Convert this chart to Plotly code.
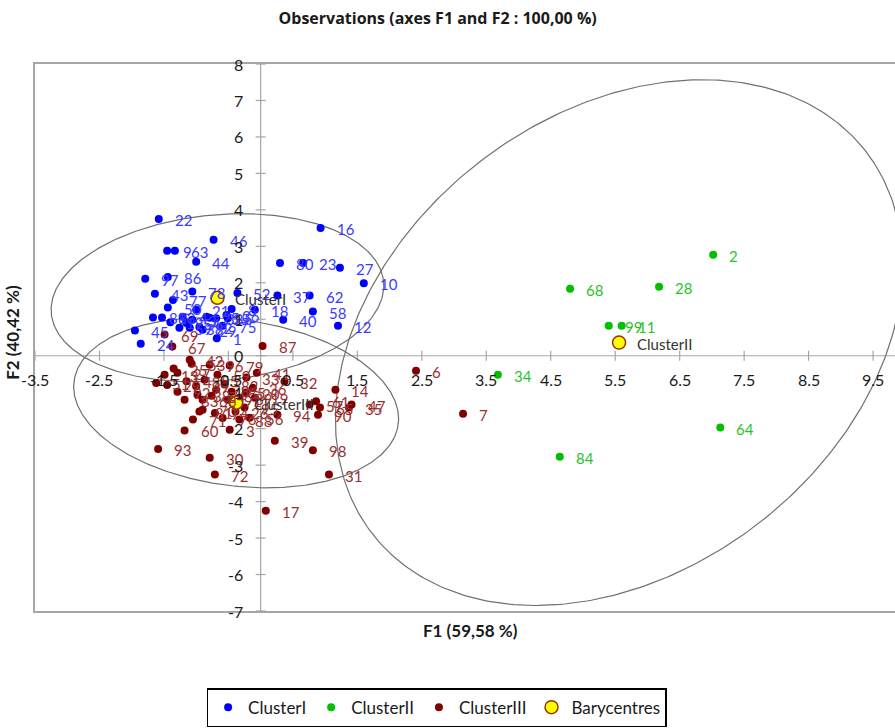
import numpy as np
import plotly.graph_objects as go

# ---------------- data ----------------
c1_labels = ["22", "46", "9", "63", "44", "97", "86", "43", "77", "78", "50", "21", "52", "8", "18",
             "80", "23", "27", "16", "10", "37", "62", "58", "40", "12", "15", "5", "75", "1", "45",
             "24", "81", "83", "4", "54", "3", "59", "38", "92", "25", "19", "29", "33", "36"]
c1_x = [-1.58, -0.73, -1.45, -1.33, -1.00, -1.79, -1.44, -1.64, -1.36, -1.06, -1.44, -1.00, -0.36, -0.45, -0.09,
        0.30, 0.66, 1.23, 0.93, 1.60, 0.26, 0.76, 0.81, 0.35, 1.20, -0.69, -0.51, -0.59, -0.68, -1.95,
        -1.86, -1.67, -1.53, -1.21, -1.15, -1.06, -1.26, -1.10, -0.95, -0.84, -1.40, -0.90, -0.79, -0.53]
c1_y = [3.75, 3.18, 2.88, 2.88, 2.58, 2.11, 2.16, 1.70, 1.53, 1.76, 1.32, 1.26, 1.72, 1.28, 1.26,
        2.54, 2.54, 2.41, 3.50, 1.99, 1.65, 1.65, 1.21, 0.99, 0.82, 1.03, 1.03, 0.82, 0.48, 0.69,
        0.33, 1.05, 1.05, 1.07, 0.90, 0.99, 0.77, 0.77, 0.79, 1.07, 0.92, 0.71, 1.04, 1.12]

c2_labels = ["2", "68", "28", "99", "11", "34", "64", "84"]
c2_x = [7.02, 4.80, 6.18, 5.40, 5.60, 3.68, 7.13, 4.64]
c2_y = [2.77, 1.84, 1.89, 0.82, 0.82, -0.52, -1.97, -2.77]

c3_labels = ["87", "69", "67", "53", "96", "79", "41", "32", "20", "61", "65", "94", "57", "90", "14",
             "47", "35", "39", "98", "31", "17", "60", "93", "30", "72", "6", "7", "13", "51", "27",
             "42", "48", "49", "55", "66", "70", "71", "73", "74", "76", "82", "85", "89", "91", "95",
             "26", "56", "88", "19", "25", "29", "33", "36", "59", "54", "38", "92", "83",
             "81", "3"]
c3_x = [0.03, -1.49, -1.37, -1.07, -0.79, -0.48, -0.06, 0.37, -0.23, 0.86, 0.92, 0.26, 0.76, 0.89, 1.16,
        1.41, 1.37, 0.22, 0.81, 1.06, 0.08, -1.18, -1.59, -0.79, -0.71, 2.41, 3.14, -1.49, -1.62, -1.29,
        -1.10, -1.15, -1.00, -0.87, -0.90, -0.90, -1.05, -0.69, -0.71, -0.59, -0.56, -0.45, -0.33, -0.51, -0.25,
        -0.39, -0.17, -0.33, -0.09, -1.35, -1.45, -0.22, -0.12, -0.67, -0.76, -0.98, -1.29, -1.18,
        -0.95, -0.48]
c3_y = [0.27, 0.58, 0.25, -0.22, -0.25, -0.27, -0.47, -0.71, -1.01, -1.25, -1.42, -1.62, -1.34, -1.62, -0.93,
        -1.34, -1.42, -2.33, -2.59, -3.26, -4.25, -2.05, -2.56, -2.80, -3.26, -0.41, -1.59, -0.52, -0.75, -0.47,
        -0.11, -0.70, -0.84, -0.66, -1.21, -1.48, -1.75, -0.93, -1.57, -1.71, -0.79, -0.99, -1.15, -1.21, -1.42,
        -1.53, -1.70, -1.75, -1.15, -0.35, -0.80, -0.60, -0.88, -0.52, -1.10, -1.07, -0.99, -1.21,
        -1.53, -2.03]

bary_labels = ["ClusterI", "ClusterII", "ClusterIII"]
bary_x = [-0.67, 5.56, -0.38]
bary_y = [1.59, 0.36, -1.29]

# confidence ellipses (centre, x semi-extent, y semi-axis, tilt term)
ell_cx = [-0.67, 5.56, -0.38]
ell_cy = [1.59, 0.36, -1.29]
ell_a = [2.58, 4.40, 2.52]
ell_b = [2.28, 6.89, 2.29]
ell_d = [0.33, 2.12, -0.44]

x_ticks = [-3.5, -2.5, -1.5, -0.5, 0.5, 1.5, 2.5, 3.5, 4.5, 5.5, 6.5, 7.5, 8.5, 9.5]
x_tick_text = ["-3.5", "-2.5", "-1.5", "-0.5", "0.5", "1.5", "2.5", "3.5", "4.5", "5.5", "6.5", "7.5", "8.5", "9.5"]
y_ticks = [-7, -6, -5, -4, -3, -2, -1, 0, 1, 2, 3, 4, 5, 6, 7, 8]
y_tick_text = ["-7", "-6", "-5", "-4", "-3", "-2", "-1", "0", "1", "2", "3", "4", "5", "6", "7", "8"]

X_RANGE = [-3.5, 9.84]
Y_RANGE = [-7, 8]

FONT = "Lato"
AXIS_COL = "#a6a6a6"

fig = go.Figure()

# ellipses
t = np.linspace(0, 2 * np.pi, 400)
for cx, cy, a, b, d in zip(ell_cx, ell_cy, ell_a, ell_b, ell_d):
    fig.add_trace(go.Scatter(
        x=cx + a * np.cos(t), y=cy + d * np.cos(t) + b * np.sin(t),
        mode="lines", line=dict(color="#707070", width=1.2),
        showlegend=False, hoverinfo="skip"))

clusters = [
    ("ClusterI", c1_x, c1_y, c1_labels, "#0000ff", "#3a3aff"),
    ("ClusterII", c2_x, c2_y, c2_labels, "#00c000", "#2cc22c"),
    ("ClusterIII", c3_x, c3_y, c3_labels, "#800000", "#983030"),
]

annotations = []
for name, xs, ys, labs, col, tcol in clusters:
    fig.add_trace(go.Scatter(
        x=xs, y=ys, mode="markers", name=name,
        marker=dict(color=col, size=8, line=dict(width=0))))
    for xv, yv, lb in zip(xs, ys, labs):
        annotations.append(dict(
            x=xv, y=yv, xref="x", yref="y", text=lb, showarrow=False,
            xanchor="left", yanchor="middle", xshift=14, yshift=-1,
            font=dict(family=FONT, size=15, color=tcol)))

fig.add_trace(go.Scatter(
    x=bary_x, y=bary_y, mode="markers", name="Barycentres",
    marker=dict(color="#ffff00", size=13, line=dict(color="#a03000", width=1.5))))
for xv, yv, lb in zip(bary_x, bary_y, bary_labels):
    annotations.append(dict(
        x=xv, y=yv, xref="x", yref="y", text=lb, showarrow=False,
        xanchor="left", yanchor="middle", xshift=16, yshift=-1,
        font=dict(family=FONT, size=15, color="#333333")))

# tick labels on the crossing axes
for tv, tt in zip(x_ticks, x_tick_text):
    annotations.append(dict(
        x=tv, y=0, xref="x", yref="y", text=tt, showarrow=False,
        xanchor="center", yanchor="middle", yshift=-24,
        font=dict(family=FONT, size=16, color="#1a1a1a")))
for tv, tt in zip(y_ticks, y_tick_text):
    annotations.append(dict(
        x=0, y=tv, xref="x", yref="y", text=tt, showarrow=False,
        xanchor="right", yanchor="middle", xshift=-16,
        font=dict(family=FONT, size=16, color="#1a1a1a")))

# axis titles
annotations.append(dict(
    x=0.506, y=-0.035, xref="paper", yref="paper", text="<b>F1 (59,58 %)</b>",
    showarrow=False, xanchor="center", yanchor="middle",
    font=dict(family=FONT, size=17, color="#1a1a1a")))
annotations.append(dict(
    x=-0.027, y=0.51, xref="paper", yref="paper", text="<b>F2 (40,42 %)</b>",
    showarrow=False, xanchor="center", yanchor="middle", textangle=-90,
    font=dict(family=FONT, size=17, color="#1a1a1a")))

shapes = [
    dict(type="line", xref="paper", yref="y", x0=0, x1=1, y0=0, y1=0,
         line=dict(color=AXIS_COL, width=1.2), layer="below"),
    dict(type="line", xref="x", yref="paper", x0=0, x1=0, y0=0, y1=1,
         line=dict(color=AXIS_COL, width=1.2), layer="below"),
]
for tv in x_ticks:
    shapes.append(dict(type="line", xref="x", yref="y", ysizemode="pixel", yanchor=0,
                       x0=tv, x1=tv, y0=-5, y1=5, line=dict(color=AXIS_COL, width=1.2),
                       layer="below"))
for tv in y_ticks:
    shapes.append(dict(type="line", xref="x", yref="y", xsizemode="pixel", xanchor=0,
                       x0=-5, x1=5, y0=tv, y1=tv, line=dict(color=AXIS_COL, width=1.2),
                       layer="below"))

fig.update_layout(
    width=895, height=728,
    margin=dict(l=35, r=0, t=64, b=117),
    paper_bgcolor="white", plot_bgcolor="white",
    title=dict(text="<b>Observations (axes F1 and F2 : 100,00 %)</b>",
               x=0.489, xref="container", xanchor="center",
               y=0.975, yref="container", yanchor="middle",
               font=dict(family="Open Sans", size=16, color="#1a1a1a")),
    xaxis=dict(range=X_RANGE, showgrid=False, zeroline=False, showticklabels=False,
               ticks="", showline=True, mirror=True, linecolor=AXIS_COL, linewidth=2),
    yaxis=dict(range=Y_RANGE, showgrid=False, zeroline=False, showticklabels=False,
               ticks="", showline=True, mirror=False, linecolor=AXIS_COL, linewidth=2),
    legend=dict(orientation="h", x=0.467, xanchor="center", y=-0.141, yanchor="top",
                bordercolor="#000000", borderwidth=1.5,
                font=dict(family=FONT, size=17, color="#1a1a1a"),
                itemwidth=30, tracegroupgap=0),
    annotations=annotations,
    shapes=shapes,
    showlegend=True,
)

fig.write_html(
    "out.html",
    config={"displayModeBar": False},
    post_script="document.body.style.margin='0';document.body.style.overflow='hidden';"
                "document.documentElement.style.overflow='hidden';",
)
